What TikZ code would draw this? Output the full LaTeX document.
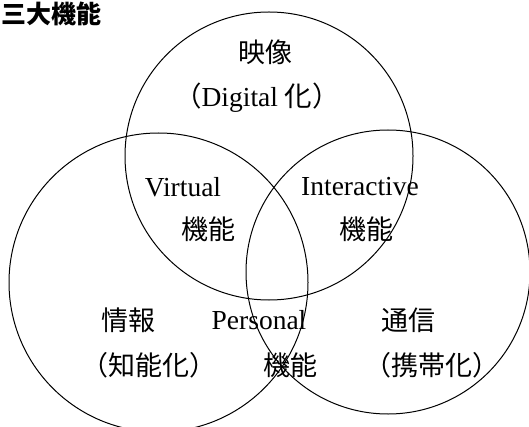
\documentclass[tikz,border=0pt]{standalone}
\usepackage{fontspec}
\setmainfont{Liberation Serif}
\newfontfamily\cjk{Noto Sans CJK JP}
\begin{document}
\begin{tikzpicture}[x=1pt,y=-1pt]
\tikzset{
  ring/.style={circle, draw, line width=1pt, inner sep=0pt},
  lbl/.style={inner sep=0pt, font=\fontsize{27.5}{32}\selectfont},
  cj/.style={lbl, font=\fontsize{27}{32}\selectfont\cjk},
}
\useasboundingbox (0,0) rectangle (529,427);
\node[ring, minimum size=288pt] (top) at (269,156) {};
\node[ring, minimum size=299pt] (left) at (158.5,282.5) {};
\node[ring, minimum size=284pt] (right) at (388,272) {};
\node[anchor=base west, inner sep=0pt, font=\fontsize{25}{30}\selectfont\cjk\bfseries] (title) at (1,24) {三大機能};
\node[cj] (eizo) at (265,52) {映像};
\node[lbl] (digital) at (257,98) {{\cjk （}Digital {\cjk 化）}};
\node[lbl] (virtual) at (183,187) {Virtual};
\node[cj] (vkino) at (208,229) {機能};
\node[lbl] (inter) at (360,187) {Interactive};
\node[cj] (ikino) at (366,229) {機能};
\node[cj] (joho) at (128,320) {情報};
\node[cj] (chino) at (149,365) {（知能化）};
\node[lbl] (personal) at (259,320) {Personal};
\node[cj] (pkino) at (290,365) {機能};
\node[cj] (tsushin) at (408,320) {通信};
\node[cj] (keitai) at (432,365) {（携帯化）};
\end{tikzpicture}
\end{document}
